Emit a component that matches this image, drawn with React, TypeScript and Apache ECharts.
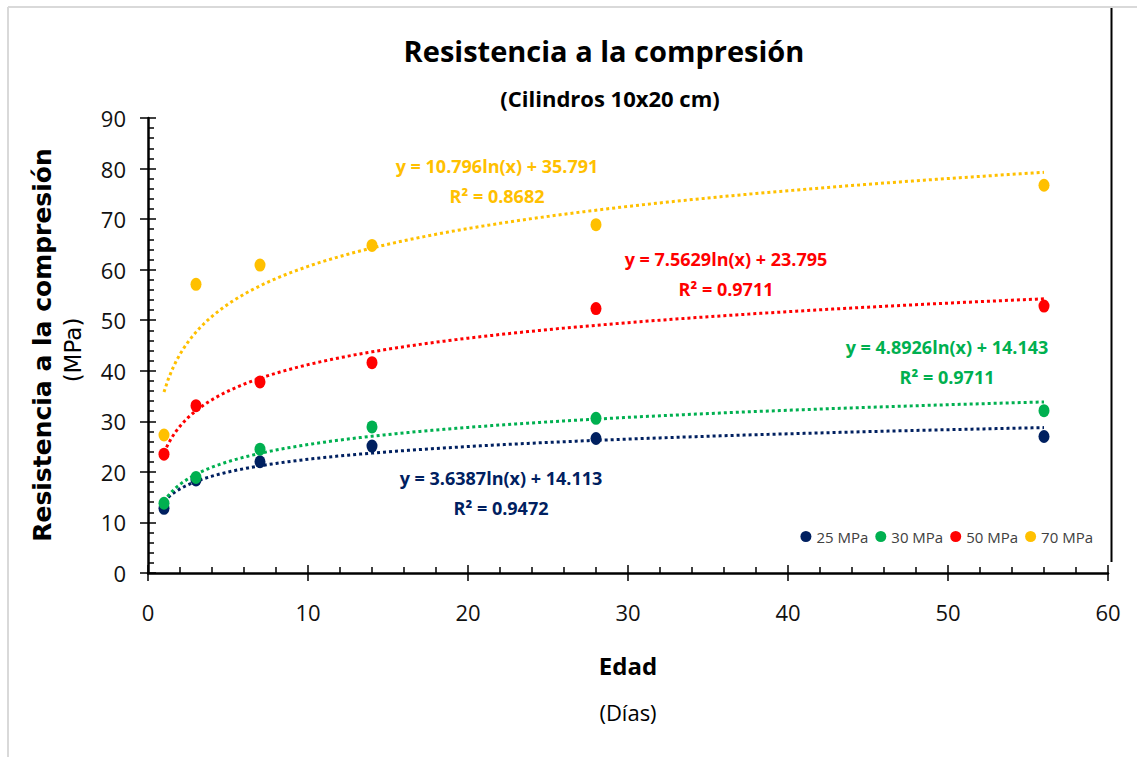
import React, { useEffect, useRef } from "react";
import * as echarts from "echarts";

// Curing age in days
const ages = [1, 3, 7, 14, 28, 56];

// Measured compressive strength (MPa) per design mix
const mix25 = [12.8, 18.4, 22.0, 25.1, 26.6, 27.0];
const mix30 = [13.8, 18.9, 24.5, 28.9, 30.6, 32.1];
const mix50 = [23.5, 33.1, 37.8, 41.6, 52.3, 52.8];
const mix70 = [27.3, 57.1, 60.9, 64.8, 68.9, 76.7];

const seriesNames = ["25 MPa", "30 MPa", "50 MPa", "70 MPa"];
const seriesColors = ["#002060", "#00B050", "#FF0000", "#FFC000"];

// Logarithmic trend lines: y = a ln(x) + b
const trendA = [3.6387, 4.8926, 7.5629, 10.796];
const trendB = [14.113, 14.143, 23.795, 35.791];
const trendR2 = ["0.9472", "0.9711", "0.9711", "0.8682"];

const xTicks = { min: 0, max: 60, interval: 10 };
const yTicks = { min: 0, max: 90, interval: 10 };

const SANS = "'Open Sans', sans-serif";
const DOT = "path://M0,10a10,10 0 1,0 20,0a10,10 0 1,0 -20,0";

function trendPoints(a: number, b: number): number[][] {
  const pts: number[][] = [];
  for (let x = ages[0]; x <= ages[ages.length - 1] + 1e-9; x += 0.25) {
    pts.push([x, a * Math.log(x) + b]);
  }
  return pts;
}

function eqText(i: number): string {
  return `y = ${trendA[i]}ln(x) + ${trendB[i]}\nR² = ${trendR2[i]}`;
}

export default function App() {
  const ref = useRef<HTMLDivElement>(null);

  useEffect(() => {
    if (!ref.current) return;
    const chart = echarts.init(ref.current, undefined, { renderer: "svg" });
    const values = [mix25, mix30, mix50, mix70];

    const tickLine = { color: "#000", width: 1.5 };
    const labelStyle = { color: "#111", fontSize: 22, fontFamily: SANS };

    const scatterSeries = values.map((vals, i) => ({
      name: seriesNames[i],
      type: "scatter",
      data: ages.map((d, k) => [d, vals[k]]),
      symbol: DOT,
      symbolSize: [11, 13],
      itemStyle: { color: seriesColors[i], opacity: 1 },
      z: 5,
    }));

    const trendSeries = trendA.map((a, i) => ({
      name: seriesNames[i] + " trend",
      type: "line",
      data: trendPoints(a, trendB[i]),
      showSymbol: false,
      symbol: "none",
      smooth: false,
      lineStyle: { color: seriesColors[i], width: 3, type: "dotted" },
      z: 3,
      silent: true,
    }));

    // Equation label anchors (first-line centre)
    const eqPos = [
      [501, 478],
      [947, 347],
      [726, 259],
      [497, 166],
    ];

    chart.setOption({
      animation: false,
      backgroundColor: "#fff",
      grid: { left: 148, right: 29, top: 118, bottom: 184, containLabel: false },
      legend: {
        data: seriesNames,
        right: 39,
        top: 524,
        icon: DOT,
        itemWidth: 11,
        itemHeight: 13,
        itemGap: 7,
        itemStyle: { opacity: 1 },
        textStyle: { fontSize: 15, color: "#404040", fontFamily: SANS },
      },
      xAxis: [
        {
          type: "value",
          ...xTicks,
          position: "bottom",
          axisLine: { show: true, onZero: false, lineStyle: { color: "#000", width: 2.5 } },
          axisTick: { show: true, length: 8, lineStyle: tickLine },
          axisLabel: { ...labelStyle, margin: 28 },
          splitLine: { show: false },
        },
        {
          type: "value",
          ...xTicks,
          position: "bottom",
          axisLine: { show: false, onZero: false },
          axisTick: { show: true, inside: true, length: 8, lineStyle: tickLine },
          minorTick: { show: true, splitNumber: 5, length: 6, lineStyle: tickLine },
          axisLabel: { show: false },
          splitLine: { show: false },
        },
      ],
      yAxis: [
        {
          type: "value",
          ...yTicks,
          position: "left",
          axisLine: { show: true, onZero: false, lineStyle: { color: "#000", width: 2.5 } },
          axisTick: { show: true, length: 8, lineStyle: tickLine },
          axisLabel: { ...labelStyle, margin: 22 },
          splitLine: { show: false },
        },
        {
          type: "value",
          ...yTicks,
          position: "left",
          axisLine: { show: false, onZero: false },
          axisTick: { show: true, inside: true, length: 8, lineStyle: tickLine },
          minorTick: { show: true, splitNumber: 5, length: 6, lineStyle: tickLine },
          axisLabel: { show: false },
          splitLine: { show: false },
        },
      ],
      series: [...trendSeries, ...scatterSeries],
      graphic: [
        // outer frame
        { type: "line", shape: { x1: 8, y1: 7, x2: 1137, y2: 7 }, style: { stroke: "#d9d9d9", lineWidth: 2 } },
        { type: "line", shape: { x1: 8, y1: 7, x2: 8, y2: 757 }, style: { stroke: "#d9d9d9", lineWidth: 2 } },
        { type: "line", shape: { x1: 1111.5, y1: 8, x2: 1111.5, y2: 562 }, style: { stroke: "#000", lineWidth: 2 } },
        {
          type: "text",
          x: 604,
          y: 50,
          style: {
            text: "Resistencia a la compresión",
            font: `bold 29px ${SANS}`,
            fill: "#000",
            align: "center",
            verticalAlign: "middle",
          },
        },
        {
          type: "text",
          x: 610,
          y: 98,
          style: {
            text: "(Cilindros 10x20 cm)",
            font: `bold 22px ${SANS}`,
            fill: "#000",
            align: "center",
            verticalAlign: "middle",
          },
        },
        {
          type: "text",
          x: 42,
          y: 345,
          rotation: Math.PI / 2,
          style: {
            text: "Resistencia a la compresión",
            font: "bold 25px 'DejaVu Sans', sans-serif",
            fill: "#000",
            align: "center",
            verticalAlign: "middle",
          },
        },
        {
          type: "text",
          x: 73,
          y: 350,
          rotation: Math.PI / 2,
          style: {
            text: "(MPa)",
            font: "23px 'DejaVu Sans', sans-serif",
            fill: "#000",
            align: "center",
            verticalAlign: "middle",
          },
        },
        {
          type: "text",
          x: 628,
          y: 665,
          style: {
            text: "Edad",
            font: `bold 24px ${SANS}`,
            fill: "#000",
            align: "center",
            verticalAlign: "middle",
          },
        },
        {
          type: "text",
          x: 628,
          y: 712,
          style: {
            text: "(Días)",
            font: `22px ${SANS}`,
            fill: "#000",
            align: "center",
            verticalAlign: "middle",
          },
        },
        ...eqPos.map((p, i) => ({
          type: "text",
          x: p[0],
          y: p[1] - 15,
          style: {
            text: eqText(i),
            font: `bold 18px ${SANS}`,
            lineHeight: 30,
            fill: seriesColors[i],
            align: "center",
            verticalAlign: "top",
          },
        })),
      ],
    });

    return () => chart.dispose();
  }, []);

  return (
    <div
      ref={ref}
      style={{ position: "fixed", left: 0, top: 0, width: 1137, height: 757 }}
    />
  );
}
